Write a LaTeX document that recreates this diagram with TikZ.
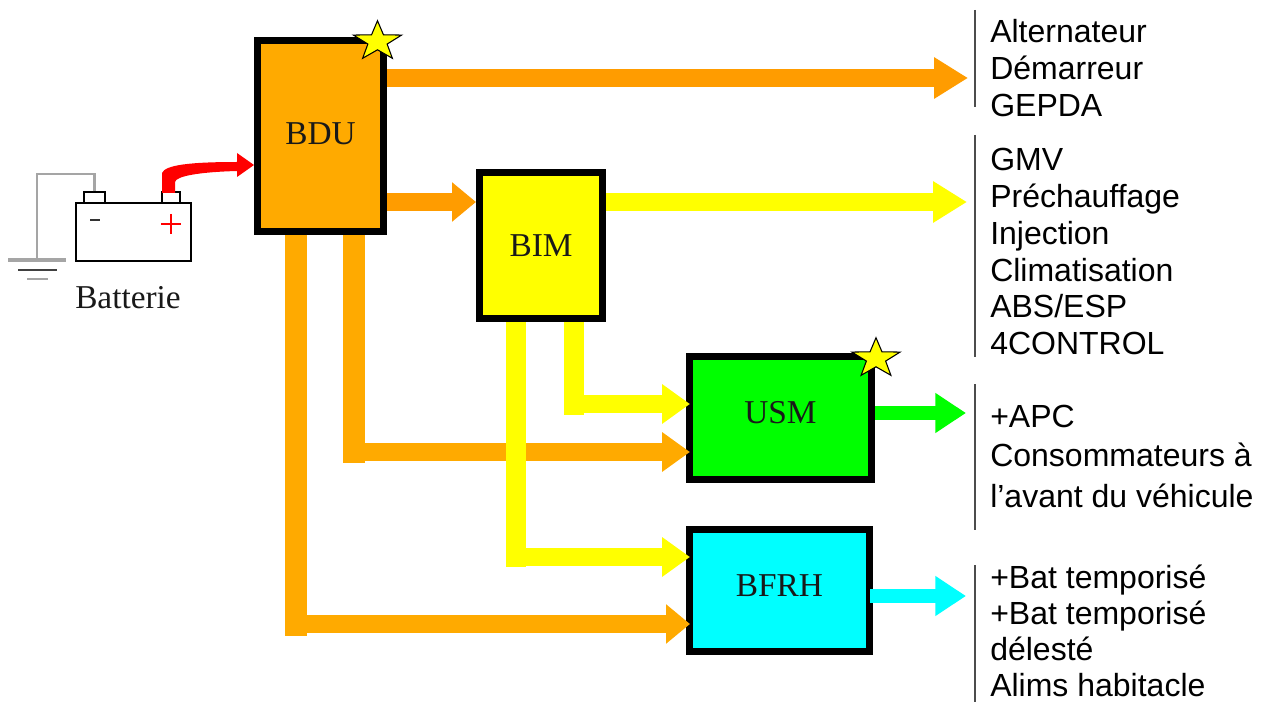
\documentclass[tikz,border=0pt]{standalone}
\usepackage{fontspec}
\setmainfont{Liberation Serif}
\newfontfamily\labelfont{Liberation Sans}
\usetikzlibrary{arrows.meta,shapes.geometric}
\definecolor{orangeA}{RGB}{255,170,0}
\definecolor{orangeB}{RGB}{255,156,0}
\definecolor{pureY}{RGB}{255,255,0}
\definecolor{pureG}{RGB}{0,255,0}
\definecolor{pureC}{RGB}{0,255,255}
\definecolor{pureR}{RGB}{255,0,0}
\definecolor{wire}{RGB}{165,165,165}
\newcommand{\liftby}[2]{\raisebox{#1}[\height][\depth]{#2}}
\tikzset{
  x=0.75pt,y=-0.75pt,
  unit/.style={draw=black,line width=5.25pt,inner sep=0pt,font=\fontsize{25}{25}\selectfont,text=black!90},
  flow/.style={line width=13.5pt,-{Triangle[width=28.5pt,length=21pt]}},
  flowlong/.style={line width=13.5pt,-{Triangle[width=29.5pt,length=25.5pt]}},
  flowshort/.style={line width=13.5pt,-{Triangle[width=28.5pt,length=18pt]}},
  flowout/.style={line width=#1,-{Triangle[width=28.5pt,length=23pt]}},
  trunk/.style={line width=#1},
  prize/.style={star,star points=5,star point ratio=2.5,draw=black,line width=0.8pt,fill=pureY,minimum size=38pt,inner sep=0pt,transform shape,yscale=0.82},
  sep/.style={draw=black!70,line width=1.5pt},
  loads/.style={font=\labelfont\fontsize{24}{27.6}\selectfont,align=left,anchor=north west,inner sep=0pt},
  term/.style={draw=black,line width=1.1pt,fill=white,inner sep=0pt},
}
\begin{document}
\begin{tikzpicture}
\useasboundingbox (0,0) rectangle (1263,702);

% ground and wire
\coordinate (gnd) at (37,260);
\coordinate (gA) at (8,260);
\coordinate (gB) at (66,260);
\coordinate (gC) at (18,270);
\coordinate (gD) at (57,270);
\coordinate (gE) at (27,279);
\coordinate (gF) at (48,279);
\coordinate (wTop) at (37,174);

% battery
\node[term,minimum width=86.25pt,minimum height=43.5pt] (bat) at (133.5,232) {};
\node[term,minimum width=15.75pt,minimum height=8.25pt] (neg) at (94.5,197.5) {};
\node[term,minimum width=13.5pt,minimum height=8.25pt] (pos) at (171,197.5) {};
\draw[draw=wire,line width=2pt] (neg.north) |- (wTop) -- (gnd);
\draw[draw=wire,line width=2.6pt] (gA) -- (gB);
\draw[draw=black!75,line width=2pt] (gC) -- (gD);
\draw[draw=wire,line width=2pt] (gE) -- (gF);
\coordinate (mA) at (90,220);
\coordinate (mB) at (100,220);
\draw[line width=1.6pt,black!80] (mA) -- (mB);
\coordinate (pA) at (161,224);
\coordinate (pB) at (181,224);
\coordinate (pC) at (171,214);
\coordinate (pD) at (171,234);
\draw[line width=1.1pt,pureR] (pA) -- (pB) (pC) -- (pD);
\node[font=\fontsize{25}{25}\selectfont,text=black!90,inner sep=0pt] (batlabel) at (128,298) {Batterie};

% units
\node[unit,fill=orangeA,minimum width=94.5pt,minimum height=143.25pt] (bdu) at (320.5,136) {\liftby{1.5pt}{BDU}};
\node[unit,fill=pureY,minimum width=92.25pt,minimum height=109.5pt] (bim) at (541,245.5) {BIM};
\node[unit,fill=pureG,minimum width=136.5pt,minimum height=92.25pt] (usm) at (780.5,418) {\liftby{3.75pt}{USM}};
\node[unit,fill=pureC,minimum width=135pt,minimum height=91.5pt] (bfrh) at (779.5,590.5) {\liftby{3.75pt}{BFRH}};

% arrow targets and corners
\coordinate (o1) at (968,78);
\coordinate (o2) at (967,202);
\coordinate (o3) at (966,413);
\coordinate (o4) at (966,596);
\coordinate (i1) at (690,404);
\coordinate (i2) at (690,452);
\coordinate (i3) at (690,557);
\coordinate (i4) at (690,624);
\coordinate (c1) at (573.5,415);
\coordinate (c2) at (354,463);
\coordinate (c3) at (516,567);
\coordinate (c4) at (296,636);
\coordinate (f1) at (0,202);
\coordinate (f2) at (870,596);

% battery feed
\fill[pureR] (162,193) -- (162,173) .. controls (165,165) and (190,162) .. (237,162)
  -- (237,153) -- (254,165) -- (237,177) -- (237,171)
  .. controls (200,172) and (176,176) .. (175,182) -- (175,193) -- cycle;

% BDU outputs
\draw[flowlong,draw=orangeB,fill=orangeB] (bdu.east |- o1) -- (o1);
\draw[flowshort,draw=orangeB,fill=orangeB] (bdu.east |- f1) -- (bim.west |- f1);
\draw[trunk=16.5pt,orangeA] (bdu.south -| c2) -- (c2);
\draw[flow,orangeA] (c2 |- i2) -- (i2);
\draw[trunk=16.5pt,orangeA] (bdu.south -| c4) -- (c4);
\draw[flowshort,orangeA] (c4 |- i4) -- (i4);

% BIM outputs
\draw[flowlong,pureY] (bim.east |- o2) -- (o2);
\draw[trunk=15pt,pureY] (bim.south -| c1) -- (c1);
\draw[flow,pureY] (c1 |- i1) -- (i1);
\draw[trunk=15pt,pureY] (bim.south -| c3) -- (c3);
\draw[flow,pureY] (c3 |- i3) -- (i3);

% USM and BFRH outputs
\draw[flowout=10pt,pureG] (usm.east |- o3) -- (o3);
\draw[flowout=11pt,pureC] (f2) -- (o4);

% stars
\node[prize] (s1) at (377.5,41.5) {};
\node[prize] (s2) at (876,358.5) {};

% separators
\coordinate (a1) at (975,10);
\coordinate (a2) at (975,107);
\coordinate (b1) at (975,135);
\coordinate (b2) at (975,357);
\coordinate (c5) at (975,384);
\coordinate (c6) at (975,530);
\coordinate (d1) at (975,565);
\coordinate (d2) at (975,702);
\draw[sep] (a1) -- (a2);
\draw[sep] (b1) -- (b2);
\draw[sep] (c5) -- (c6);
\draw[sep] (d1) -- (d2);

% load lists
\node[loads] (l1) at (990,19) {Alternateur\\Démarreur\\GEPDA};
\node[loads] (l2) at (990,148) {GMV\\Préchauffage\\Injection\\Climatisation\\ABS/ESP\\4CONTROL};
\node[loads] (l3) at (990,405) {+APC\\[1.5pt]Consommateurs à\\[3pt]l’avant du véhicule};
\node[loads] (l4) at (990,565) {+Bat temporisé\\[-1pt]+Bat temporisé\\[-0.5pt]délesté\\[-0.25pt]Alims habitacle};
\end{tikzpicture}
\end{document}
